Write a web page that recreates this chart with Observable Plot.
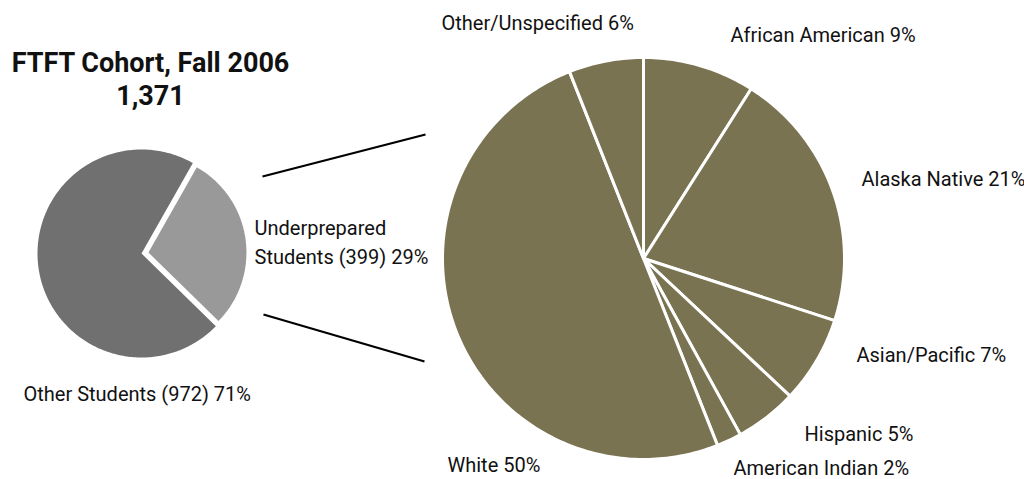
<!DOCTYPE html>
<html>
<head>
<meta charset="utf-8">
<script src="https://cdn.jsdelivr.net/npm/d3@7"></script>
<script src="https://cdn.jsdelivr.net/npm/@observablehq/plot@0.6"></script>
<style>
  html, body { margin: 0; padding: 0; background: #fff; }
  #chart svg { display: block; }
</style>
</head>
<body>
<div id="chart"></div>
<script>
// ---- Data ----
const titleLines = ["FTFT Cohort, Fall 2006", "1,371"];
const cohortLabels = ["Other Students", "Underprepared Students"];
const cohortCounts = [972, 399];
const cohortPct = [71, 29];
const groupLabels = ["African American", "Alaska Native", "Asian/Pacific", "Hispanic", "American Indian", "White", "Other/Unspecified"];
const groupPct = [9, 21, 7, 5, 2, 50, 6];

// ---- Layout (pixel frame) ----
const W = 1024, H = 479;
const small = {cx: 141, cy: 253, r: 104, rSplit: 98, explode: 7, splitStart: 29.6};
const big = {cx: 643, cy: 258, r: 201};
const FONT = "Roboto, 'Liberation Sans', sans-serif";

const rad = a => a * Math.PI / 180;
function arcPoly(cx, cy, r, a0, a1, key, color) {
  const pts = [{x: cx, y: cy, key, color}];
  const n = Math.max(2, Math.ceil(Math.abs(a1 - a0)));
  for (let i = 0; i <= n; i++) {
    const a = a0 + (a1 - a0) * i / n;
    pts.push({x: cx + r * Math.sin(rad(a)), y: cy - r * Math.cos(rad(a)), key, color});
  }
  pts.push({x: cx, y: cy, key, color});
  return pts;
}

// Small pie: split slice (Underprepared) exploded
const total = d3.sum(cohortCounts);
const splitSpan = cohortCounts[1] / total * 360;
const sStart = small.splitStart, sEnd = sStart + splitSpan, sMid = (sStart + sEnd) / 2;
const ex = small.explode * Math.sin(rad(sMid)), ey = -small.explode * Math.cos(rad(sMid));
const smallSlices = [
  ...arcPoly(small.cx, small.cy, small.r, sEnd, sStart + 360, cohortLabels[0], "#707070"),
  ...arcPoly(small.cx + ex, small.cy + ey, small.rSplit, sStart, sEnd, cohortLabels[1], "#999999")
];

// Big pie
const bigTotal = d3.sum(groupPct);
let acc = 0;
const bigSlices = [];
groupLabels.forEach((g, i) => {
  const a0 = acc / bigTotal * 360;
  acc += groupPct[i];
  const a1 = acc / bigTotal * 360;
  bigSlices.push(...arcPoly(big.cx, big.cy, big.r, a0, a1, g, "#7a7352"));
});

// Connector lines: from small pie split edge to big pie edge
const connectors = [
  {x1: 262, y1: 176, x2: 425, y2: 134},
  {x1: 263, y1: 314, x2: 424, y2: 361}
];

// Label positions (left x, middle y)
const labelPos = {
  "African American": [730, 35],
  "Alaska Native": [861, 179],
  "Asian/Pacific": [856, 355],
  "Hispanic": [804, 434],
  "American Indian": [733, 468],
  "White": [447, 465],
  "Other/Unspecified": [441, 23]
};
const bigLabels = groupLabels.map((g, i) => ({
  x: labelPos[g][0], y: labelPos[g][1], text: `${g} ${groupPct[i]}%`
}));
const smallLabels = [
  {x: 23, y: 391, text: `${cohortLabels[0]} (${cohortCounts[0]}) ${cohortPct[0]}%`},
  {x: 254, y: 240, text: `Underprepared\nStudents (${cohortCounts[1]}) ${cohortPct[1]}%`}
];
const titles = [
  {x: 150, y: 63, text: titleLines[0]},
  {x: 150, y: 96, text: titleLines[1]}
];

const chart = Plot.plot({
  width: W, height: H,
  margin: 0,
  x: {domain: [0, W], axis: null},
  y: {domain: [0, H], reverse: true, axis: null},
  color: {type: "identity"},
  style: {fontFamily: FONT, background: "#fff"},
  marks: [
    Plot.line(smallSlices, {x: "x", y: "y", z: "key", fill: "color", stroke: "none", curve: "linear"}),
    Plot.line(bigSlices, {x: "x", y: "y", z: "key", fill: "color", stroke: "#fff", strokeWidth: 3, strokeLinejoin: "round", curve: "linear"}),
    Plot.link(connectors, {x1: "x1", y1: "y1", x2: "x2", y2: "y2", stroke: "#000", strokeWidth: 2.2}),
    Plot.text(bigLabels, {x: "x", y: "y", text: "text", textAnchor: "start", lineAnchor: "middle", fontSize: 20, fill: "#111"}),
    Plot.text(smallLabels, {x: "x", y: "y", text: "text", textAnchor: "start", lineAnchor: "middle", fontSize: 20, lineHeight: 1.45, fill: "#111"}),
    Plot.text(titles, {x: "x", y: "y", text: "text", textAnchor: "middle", lineAnchor: "middle", fontSize: 27, fontWeight: "bold", fill: "#111"})
  ]
});
document.getElementById("chart").appendChild(chart);
</script>
</body>
</html>
